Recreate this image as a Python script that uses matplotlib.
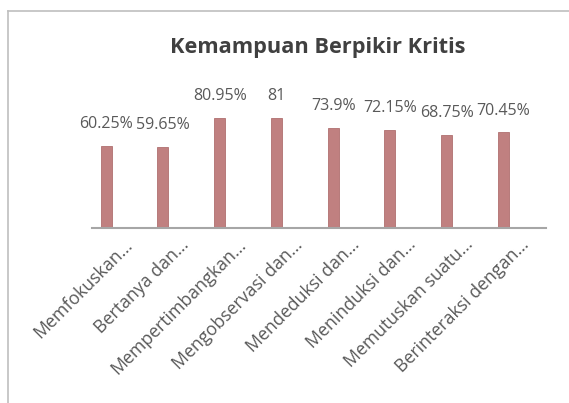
import matplotlib
matplotlib.use("Agg")
import matplotlib.pyplot as plt
from matplotlib.lines import Line2D
from matplotlib.transforms import ScaledTranslation

categories = ["Memfokuskan...", "Bertanya dan...", "Mempertimbangkan...", "Mengobservasi dan...",
              "Mendeduksi dan...", "Meninduksi dan...", "Memutuskan suatu...", "Berinteraksi dengan..."]
values = [60.25, 59.65, 80.95, 81, 73.9, 72.15, 68.75, 70.45]
value_labels = ["60.25%", "59.65%", "80.95%", "81", "73.9%", "72.15%", "68.75%", "70.45%"]
title = "Kemampuan Berpikir Kritis"

plt.rcParams['font.family'] = ['Open Sans', 'DejaVu Sans']

fig = plt.figure(figsize=(5.69, 4.03), dpi=100)
fig.patch.set_facecolor('white')

ax = fig.add_axes([92/569, 1-227.5/403, 454/569, 135/403])
ax.set_facecolor('none')
x = list(range(len(values)))
xb = [i - 0.25 for i in x]
ax.bar(xb, values, width=0.195, color='#c08080', edgecolor='#b07070', linewidth=0.6, zorder=2)
for xi, v, lab in zip(xb, values, value_labels):
    ax.annotate(lab, (xi, v), xytext=(0, 10), textcoords='offset points',
                ha='center', va='bottom', fontsize=11.5, color='#595959')
ax.set_xlim(-0.5, 7.5)
ax.set_ylim(0, 100)
for s in ['top', 'right', 'left']:
    ax.spines[s].set_visible(False)
ax.spines['bottom'].set_color('#a6a6a6')
ax.spines['bottom'].set_linewidth(1.5)
ax.set_yticks([])
ax.set_xticks(x)
ax.set_xticklabels(categories, rotation=45, ha='right', va='center', rotation_mode='anchor',
                   fontsize=12.8, color='#595959')
ax.tick_params(axis='x', length=0, pad=10.5)
offset = ScaledTranslation(9/100, 0, fig.dpi_scale_trans)
for lbl in ax.get_xticklabels():
    lbl.set_transform(lbl.get_transform() + offset)

fig.text(318/569, 1-48/403, title, ha='center', va='center', fontsize=15.7,
         fontweight='bold', color='#404040')

fig.add_artist(Line2D([8/569, 8/569], [0, 1-11/403], transform=fig.transFigure,
                      color='#bfbfbf', linewidth=1.2))
fig.add_artist(Line2D([8/569, 1], [1-11/403, 1-11/403], transform=fig.transFigure,
                      color='#bfbfbf', linewidth=1.2))

fig.savefig('out.png', dpi=100)
